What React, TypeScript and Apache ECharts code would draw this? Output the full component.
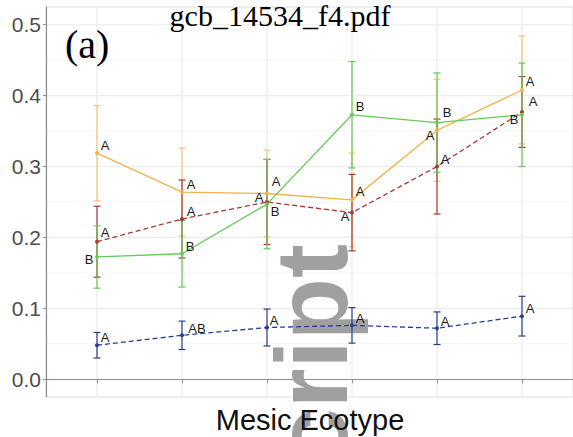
import React, { useEffect, useRef } from "react";
import * as echarts from "echarts";

// ---- data ----
const xPositions = [1, 2, 3, 4, 5, 6];
const yTicks = [0, 0.1, 0.2, 0.3, 0.4, 0.5];
const yMinorTicks = [0.05, 0.15, 0.25, 0.35, 0.45];

const orangeMean = [0.319, 0.264, 0.262, 0.253, 0.351, 0.408];
const orangeErr = [0.067, 0.062, 0.061, 0.066, 0.072, 0.076];
const orangeLetters = ["A", "A", "A", "A", "A", "A"];

const redMean = [0.194, 0.226, 0.25, 0.235, 0.3, 0.377];
const redErr = [0.05, 0.055, 0.06, 0.054, 0.067, 0.05];
const redLetters = ["A", "A", "A", "A", "A", "A"];

const greenMean = [0.1725, 0.177, 0.247, 0.373, 0.362, 0.373];
const greenErr = [0.044, 0.047, 0.063, 0.075, 0.07, 0.073];
const greenLetters = ["B", "B", "B", "B", "B", "B"];

const blueMean = [0.048, 0.062, 0.073, 0.076, 0.072, 0.089];
const blueErr = [0.018, 0.02, 0.026, 0.025, 0.023, 0.028];
const blueLetters = ["A", "AB", "A", "A", "A", "A"];

const xTitle = "Mesic Ecotype";
const topTitle = "gcb_14534_f4.pdf";
const panelTag = "(a)";
const watermark = "Manuscript";

// ---- label layout (pixel offsets from each point) ----
const orangeLabelOffset = [[8, -8], [9, -8], [9, -12], [8, -8], [-7, 5], [8, -8]];
const redLabelOffset = [[8, -9], [9, -8], [-8, -5], [-7, 4], [8, -7], [11, -10]];
const greenLabelOffset = [[-8, 3], [8, -7], [8, 7], [8, -8], [10, -10], [-8, 5]];
const blueLabelOffset = [[8, -8], [15, -7], [7, -7], [8, -7], [8, -7], [8, -8]];

const COLORS = {
  orange: "#f0b24a",
  orangeBar: "#f4c777",
  red: "#a83a32",
  green: "#66c95a",
  blue: "#283e96",
};

function lineSeries(name: string, mean: number[], letters: string[], offs: number[][], color: string, dashed: boolean) {
  return {
    name,
    type: "line",
    z: 4,
    symbol: "circle",
    symbolSize: 4,
    itemStyle: { color },
    lineStyle: { color, width: 1.3, type: dashed ? [5, 3] : "solid" },
    data: mean.map((v, i) => ({
      value: [xPositions[i], v],
      label: {
        show: true,
        formatter: letters[i],
        position: "inside",
        offset: offs[i],
        color: "#1a1a1a",
        fontSize: 13,
        fontFamily: "'Liberation Sans', Arial, sans-serif",
      },
    })),
  };
}

function errorSeries(mean: number[], err: number[], color: string) {
  return {
    type: "custom",
    z: 3,
    clip: false,
    encode: { x: 0, y: [1, 2] },
    data: mean.map((v, i) => [xPositions[i], v - err[i], v + err[i]]),
    renderItem: (params: any, api: any) => {
      const x = api.value(0);
      const lo = api.coord([x, api.value(1)]);
      const hi = api.coord([x, api.value(2)]);
      const w = 3.5;
      const style = { stroke: color, lineWidth: 1.2 };
      return {
        type: "group",
        children: [
          { type: "line", shape: { x1: lo[0], y1: lo[1], x2: hi[0], y2: hi[1] }, style },
          { type: "line", shape: { x1: lo[0] - w, y1: lo[1], x2: lo[0] + w, y2: lo[1] }, style },
          { type: "line", shape: { x1: hi[0] - w, y1: hi[1], x2: hi[0] + w, y2: hi[1] }, style },
        ],
      };
    },
  };
}

function hGridSeries(values: number[], color: string, width: number) {
  return {
    type: "custom",
    z: 0,
    silent: true,
    encode: { y: 0 },
    data: values.map((v) => [v]),
    renderItem: (params: any, api: any) => {
      const y = api.value(0);
      const a = api.coord([0.4, y]);
      const b = api.coord([6.6, y]);
      return { type: "line", shape: { x1: a[0], y1: a[1], x2: b[0], y2: b[1] }, style: { stroke: color, lineWidth: width } };
    },
  };
}

function vGridSeries(values: number[], color: string, width: number) {
  return {
    type: "custom",
    z: 0,
    silent: true,
    encode: { x: 0 },
    data: values.map((v) => [v]),
    renderItem: (params: any, api: any) => {
      const x = api.value(0);
      const a = api.coord([x, -0.025]);
      const b = api.coord([x, 0.525]);
      return { type: "line", shape: { x1: a[0], y1: a[1], x2: b[0], y2: b[1] }, style: { stroke: color, lineWidth: width } };
    },
  };
}

export default function App() {
  const ref = useRef<HTMLDivElement>(null);
  useEffect(() => {
    const chart = echarts.init(ref.current!, null, { renderer: "svg" });
    const axisColor = "#8f8f8f";
    const option: any = {
      animation: false,
      backgroundColor: "#ffffff",
      grid: { left: 46, right: 0, top: 7, bottom: 40, show: true, borderColor: "#dedede", borderWidth: 1 },
      xAxis: {
        type: "value",
        min: 0.4,
        max: 6.6,
        axisLine: { show: true, lineStyle: { color: axisColor, width: 1.2 } },
        axisTick: { show: true, customValues: xPositions, length: 4, lineStyle: { color: axisColor } },
        axisLabel: { show: false },
        splitLine: { show: false },
      },
      yAxis: {
        type: "value",
        min: -0.025,
        max: 0.525,
        axisLine: { show: true, lineStyle: { color: axisColor, width: 1.2 } },
        axisTick: { show: true, customValues: yTicks, length: 3, lineStyle: { color: axisColor } },
        axisLabel: {
          show: true,
          customValues: yTicks,
          formatter: (v: number) => v.toFixed(1),
          fontSize: 21,
          color: "#4d4d4d",
          margin: 5,
          fontFamily: "'Liberation Sans', Arial, sans-serif",
        },
        splitLine: { show: false },
      },
      graphic: [
        {
          type: "text",
          x: 312,
          y: 244,
          rotation: Math.PI / 2,
          z: 1,
          silent: true,
          style: {
            text: watermark,
            font: "bold 102px 'Liberation Sans', Arial, sans-serif",
            fill: "#a0a0a0",
            textAlign: "right",
            textVerticalAlign: "middle",
            align: "right",
            verticalAlign: "middle",
          },
        },
        {
          type: "text",
          x: 280,
          y: 15,
          z: 10,
          style: {
            text: topTitle,
            font: "30px 'Liberation Serif', 'DejaVu Serif', serif",
            fill: "#000",
            textAlign: "center",
            textVerticalAlign: "middle",
            align: "center",
            verticalAlign: "middle",
          },
        },
        {
          type: "text",
          x: 65,
          y: 44,
          z: 10,
          style: {
            text: panelTag,
            font: "40px 'Liberation Serif', 'DejaVu Serif', serif",
            fill: "#000",
            textAlign: "left",
            textVerticalAlign: "middle",
            align: "left",
            verticalAlign: "middle",
          },
        },
        {
          type: "text",
          x: 310,
          y: 420,
          z: 10,
          style: {
            text: xTitle,
            font: "29px 'Liberation Sans', Arial, sans-serif",
            fill: "#111",
            textAlign: "center",
            textVerticalAlign: "middle",
            align: "center",
            verticalAlign: "middle",
          },
        },
      ],
      series: [
        hGridSeries(yMinorTicks, "#f5f5f5", 1),
        hGridSeries(yTicks, "#ebebeb", 1.2),
        vGridSeries(xPositions, "#ebebeb", 1.2),
        errorSeries(orangeMean, orangeErr, COLORS.orangeBar),
        errorSeries(redMean, redErr, COLORS.red),
        errorSeries(greenMean, greenErr, COLORS.green),
        errorSeries(blueMean, blueErr, COLORS.blue),
        lineSeries("orange", orangeMean, orangeLetters, orangeLabelOffset, COLORS.orange, false),
        lineSeries("red", redMean, redLetters, redLabelOffset, COLORS.red, true),
        lineSeries("green", greenMean, greenLetters, greenLabelOffset, COLORS.green, false),
        lineSeries("blue", blueMean, blueLetters, blueLabelOffset, COLORS.blue, true),
      ],
    };
    chart.setOption(option);
    return () => chart.dispose();
  }, []);
  return <div ref={ref} style={{ width: 573, height: 437, position: "absolute", left: 0, top: 0 }} />;
}
